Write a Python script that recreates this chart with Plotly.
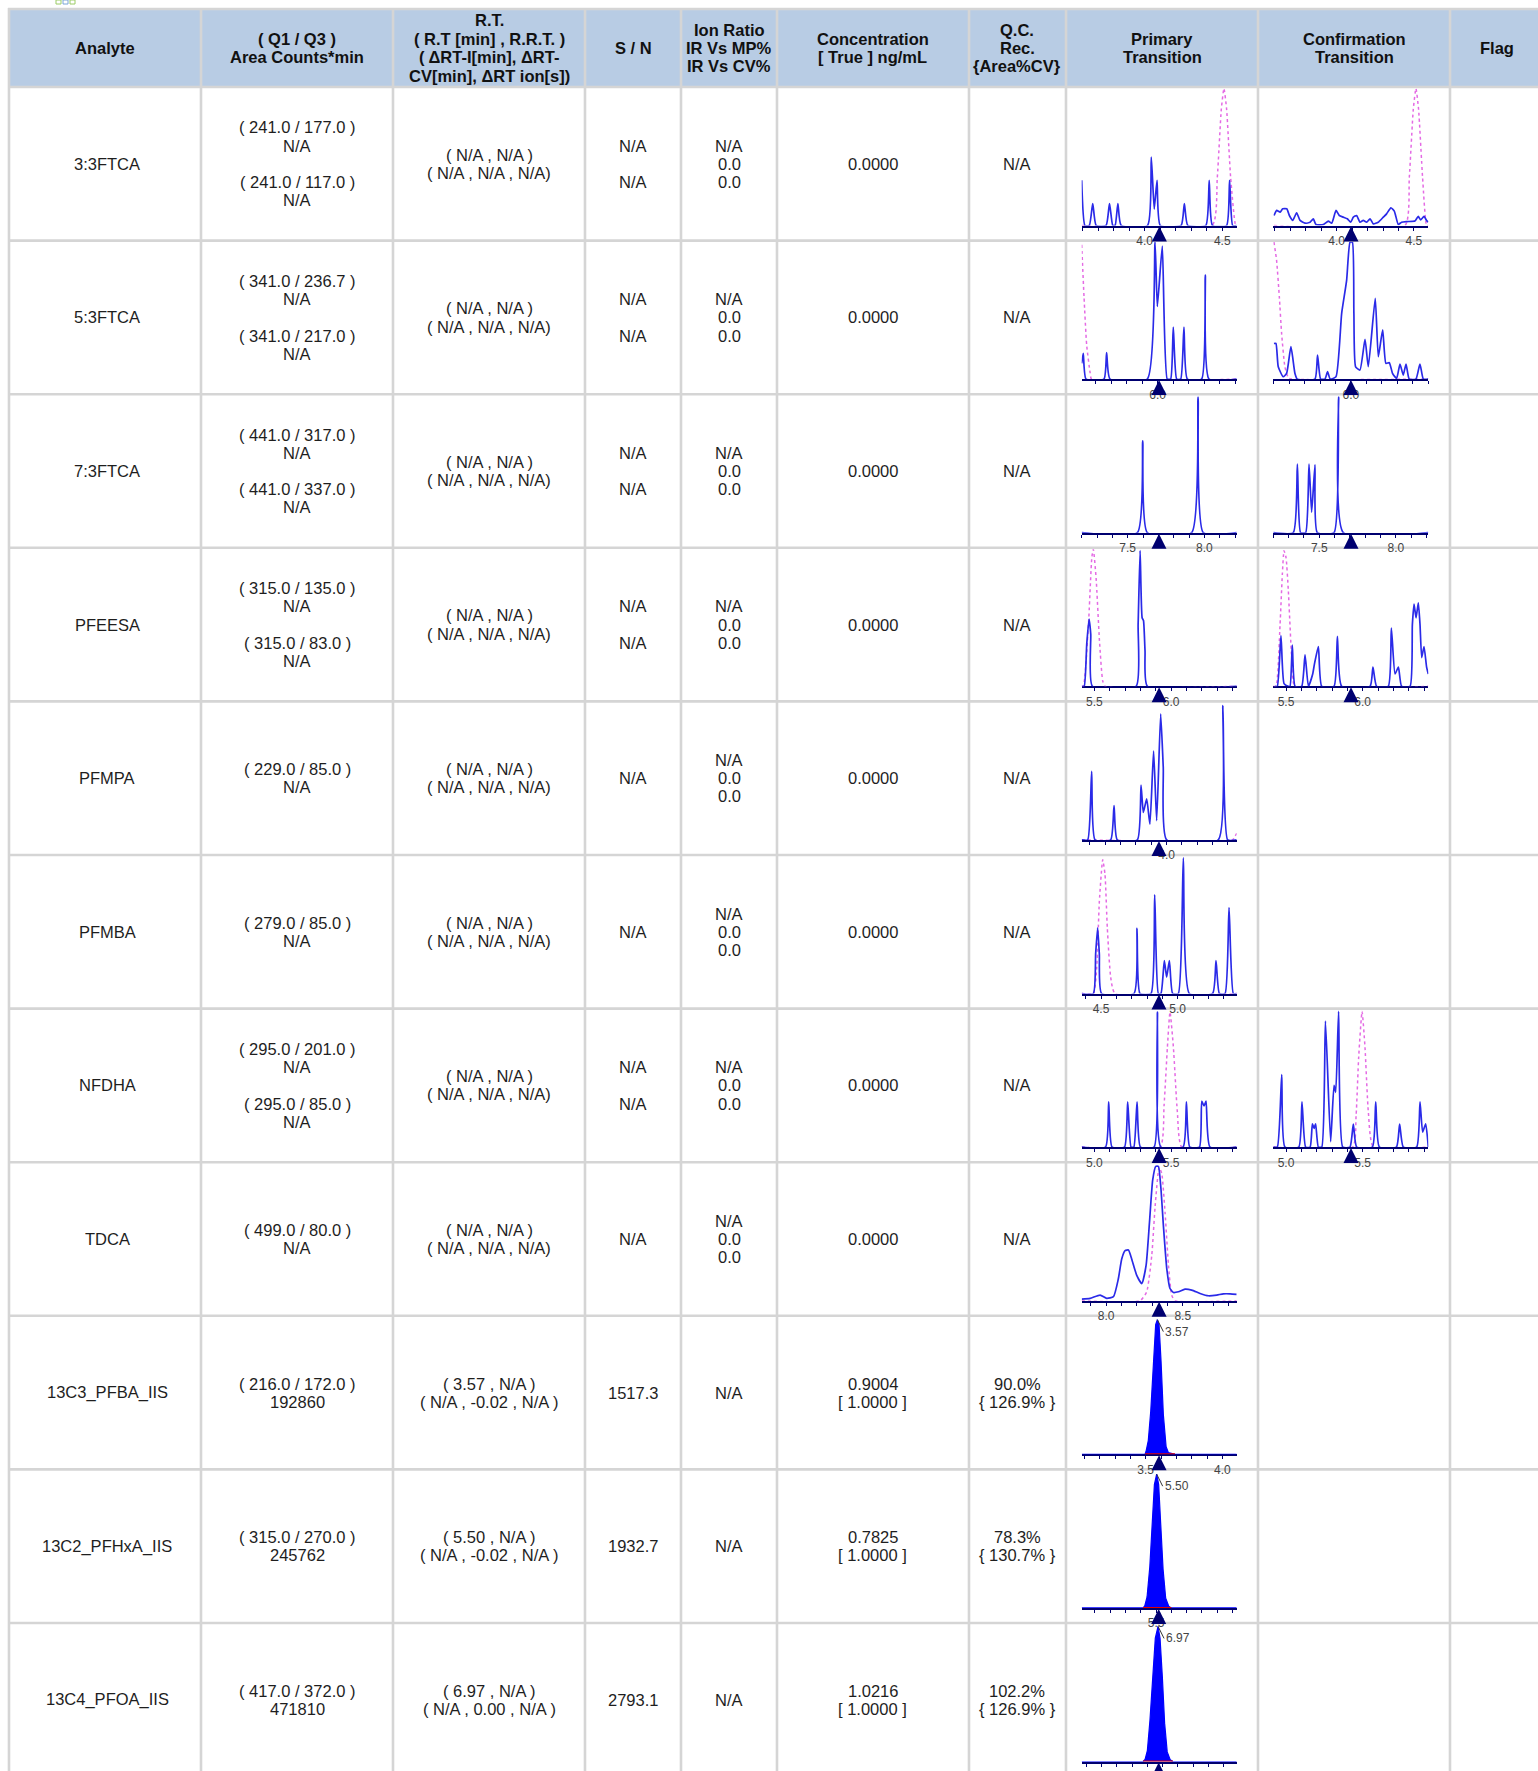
import plotly.graph_objects as go

W, H = 1538, 1771
FONT = "Liberation Sans, Arial, sans-serif"
TXT = "#1e1e1e"

# ---------------- table content ----------------
HEADERS = [
    "Analyte",
    "( Q1 / Q3 )\nArea Counts*min",
    "R.T.\n( R.T [min] , R.R.T. )\n( ΔRT-I[min], ΔRT-\nCV[min], ΔRT ion[s])",
    "S / N",
    "Ion Ratio\nIR Vs MP%\nIR Vs CV%",
    "Concentration\n[ True ] ng/mL",
    "Q.C.\nRec.\n{Area%CV}",
    "Primary\nTransition",
    "Confirmation\nTransition",
    "Flag",
]

ANALYTES = ["3:3FTCA", "5:3FTCA", "7:3FTCA", "PFEESA", "PFMPA", "PFMBA",
            "NFDHA", "TDCA", "13C3_PFBA_IIS", "13C2_PFHxA_IIS", "13C4_PFOA_IIS"]

Q1Q3 = [
    "( 241.0 / 177.0 )\nN/A\n\n( 241.0 / 117.0 )\nN/A",
    "( 341.0 / 236.7 )\nN/A\n\n( 341.0 / 217.0 )\nN/A",
    "( 441.0 / 317.0 )\nN/A\n\n( 441.0 / 337.0 )\nN/A",
    "( 315.0 / 135.0 )\nN/A\n\n( 315.0 / 83.0 )\nN/A",
    "( 229.0 / 85.0 )\nN/A",
    "( 279.0 / 85.0 )\nN/A",
    "( 295.0 / 201.0 )\nN/A\n\n( 295.0 / 85.0 )\nN/A",
    "( 499.0 / 80.0 )\nN/A",
    "( 216.0 / 172.0 )\n192860",
    "( 315.0 / 270.0 )\n245762",
    "( 417.0 / 372.0 )\n471810",
]

RT = ["( N/A , N/A )\n( N/A , N/A , N/A)"] * 8 + [
    "( 3.57 , N/A )\n( N/A , -0.02 , N/A )",
    "( 5.50 , N/A )\n( N/A , -0.02 , N/A )",
    "( 6.97 , N/A )\n( N/A , 0.00 , N/A )",
]

SN = ["N/A\n\nN/A"] * 4 + ["N/A", "N/A", "N/A\n\nN/A", "N/A", "1517.3", "1932.7", "2793.1"]

ION = ["N/A\n0.0\n0.0"] * 8 + ["N/A"] * 3

CONC = ["0.0000"] * 8 + ["0.9004\n[ 1.0000 ]", "0.7825\n[ 1.0000 ]", "1.0216\n[ 1.0000 ]"]

QC = ["N/A"] * 8 + ["90.0%\n{ 126.9% }", "78.3%\n{ 130.7% }", "102.2%\n{ 126.9% }"]

# ---------------- chromatogram data: (time [min], relative intensity) ----------------
P1_BLUE = [(3.595, 33), (3.616, 0), (3.644, 0), (3.666, 16), (3.688, 0), (3.752, 0), (3.774, 16),
           (3.795, 0), (3.810, 0), (3.828, 16), (3.849, 0), (4.019, 0), (4.043, 50), (4.062, 12),
           (4.080, 33), (4.101, 0), (4.235, 0), (4.256, 16), (4.278, 0), (4.394, 0), (4.416, 33),
           (4.437, 0), (4.528, 0), (4.547, 33), (4.567, 0), (4.593, 0)]
P1_PINK = [(3.595, 0), (4.435, 0), (4.468, 35), (4.494, 85), (4.511, 100), (4.528, 85),
           (4.554, 35), (4.586, 0), (4.593, 0)]
C1_BLUE = [(3.595, 7.3), (3.612, 11), (3.634, 9.8), (3.651, 12.2), (3.677, 12.2), (3.694, 7.3),
           (3.716, 3.7), (3.741, 9.3), (3.763, 3.7), (3.795, 1.7), (3.828, 2.4), (3.849, 4.9),
           (3.866, 0.7), (3.914, 0.7), (3.946, 3.2), (3.968, 1.7), (3.996, 11), (4.017, 7.3),
           (4.043, 6.1), (4.069, 4.9), (4.091, 2.4), (4.108, 6.1), (4.129, 7.3), (4.151, 2.4),
           (4.172, 3.7), (4.194, 2.4), (4.216, 4.9), (4.237, 1.2), (4.269, 2.4), (4.302, 6.1),
           (4.323, 8.5), (4.351, 12.9), (4.373, 10.5), (4.399, 0.7), (4.420, 2.4), (4.453, 2.9),
           (4.506, 3.2), (4.528, 6.6), (4.543, 4.1), (4.565, 6.6), (4.582, 3.7), (4.593, 2.4)]
C1_PINK = [(3.595, 0), (4.442, 0), (4.470, 35), (4.496, 85), (4.513, 100), (4.530, 85),
           (4.556, 35), (4.582, 0), (4.593, 0)]

P2_BLUE = [(5.509, 11.5), (5.519, 18.8), (5.537, 0), (5.653, 0), (5.670, 19.3), (5.692, 0),
           (5.933, 0), (5.983, 100), (5.998, 53), (6.030, 97), (6.062, 0), (6.084, 0),
           (6.101, 38), (6.123, 0), (6.149, 0), (6.170, 38), (6.192, 0), (6.284, 0),
           (6.308, 76), (6.332, 0), (6.511, 0)]
P2_PINK = [(5.509, 98), (5.524, 60), (5.541, 25), (5.563, 5), (5.573, 0), (6.511, 0)]
C2_BLUE = [(5.502, 26), (5.515, 26), (5.530, 9), (5.562, 1.7), (5.584, 4.1), (5.612, 23.7),
           (5.638, 4.1), (5.653, 0), (5.767, 0), (5.784, 17.6), (5.804, 0), (5.832, 0),
           (5.849, 5.4), (5.866, 0), (5.903, 1.7), (5.940, 48), (5.972, 72), (5.994, 100),
           (6.009, 100), (6.019, 48), (6.030, 9), (6.058, 6.6), (6.091, 29), (6.112, 9),
           (6.157, 59), (6.177, 16.3), (6.205, 35.9), (6.226, 11.5), (6.248, 12), (6.269, 4.1),
           (6.295, 0.5), (6.317, 11), (6.338, 2.9), (6.356, 11), (6.377, 0), (6.420, 0),
           (6.446, 11), (6.468, 0), (6.500, 0)]
C2_PINK = [(5.502, 100), (5.519, 87), (5.537, 60), (5.552, 33), (5.573, 9), (5.595, 1),
           (5.616, 0), (6.500, 0)]

P3_BLUE = [(7.200, 0), (7.563, 0), (7.598, 67), (7.628, 0), (7.917, 0), (7.959, 99),
           (7.993, 0), (8.211, 0)]
C3_BLUE = [(7.200, 0), (7.330, 0), (7.357, 50), (7.378, 0), (7.411, 0), (7.433, 50),
           (7.450, 15), (7.472, 49.5), (7.487, 0), (7.596, 0), (7.626, 99), (7.657, 0),
           (8.211, 0)]

P4_BLUE = [(5.417, 0), (5.433, 0), (5.450, 31), (5.465, 49), (5.476, 38), (5.487, 0),
           (5.772, 0), (5.785, 45), (5.798, 99), (5.811, 50), (5.820, 48), (5.830, 26),
           (5.846, 0), (6.428, 0)]
P4_PINK = [(5.417, 0), (5.428, 0), (5.461, 45), (5.483, 94), (5.493, 100), (5.511, 79),
           (5.533, 33), (5.554, 4), (5.570, 0), (6.428, 0)]
C4_BLUE = [(5.428, 0), (5.443, 0), (5.467, 37), (5.487, 2), (5.515, 0), (5.526, 0),
           (5.541, 30), (5.559, 0), (5.602, 0), (5.624, 23), (5.646, 0), (5.674, 9),
           (5.685, 16), (5.711, 29), (5.733, 0), (5.813, 0), (5.835, 36.5), (5.863, 0),
           (6.048, 0), (6.067, 14), (6.091, 0), (6.167, 0), (6.187, 42.5), (6.211, 9),
           (6.233, 14), (6.254, 0), (6.309, 0), (6.324, 45), (6.335, 60), (6.348, 50),
           (6.363, 61), (6.374, 45), (6.385, 21), (6.400, 29), (6.417, 14), (6.428, 9)]
C4_PINK = [(5.417, 0), (5.435, 0), (5.461, 45), (5.476, 82), (5.487, 99), (5.500, 94),
           (5.515, 70), (5.537, 21), (5.559, 0), (6.428, 0)]

P5_BLUE = [(3.446, 0), (3.485, 0), (3.511, 50), (3.533, 0), (3.635, 0), (3.657, 25),
           (3.678, 0), (3.809, 0), (3.833, 40), (3.848, 20), (3.870, 30), (3.891, 11.5),
           (3.915, 65), (3.935, 14), (3.961, 92), (3.978, 53), (4.000, 0), (4.337, 0),
           (4.367, 98), (4.398, 0), (4.457, 0)]
P5_PINK = [(3.446, 0), (4.430, 0), (4.445, 2.4), (4.457, 4.8)]

P6_BLUE = [(4.374, 0), (4.450, 0), (4.465, 29), (4.478, 48), (4.489, 29), (4.504, 0),
           (4.715, 0), (4.735, 47.5), (4.754, 0), (4.826, 0), (4.850, 72), (4.874, 0),
           (4.891, 0), (4.913, 24), (4.928, 12), (4.946, 24), (4.967, 0), (5.004, 0),
           (5.037, 99), (5.076, 0), (5.228, 0), (5.250, 24), (5.272, 0), (5.309, 0),
           (5.335, 62.7), (5.363, 0), (5.385, 0)]
P6_PINK = [(4.374, 0), (4.450, 0), (4.472, 19), (4.489, 67), (4.511, 97.6), (4.526, 87),
           (4.541, 48), (4.563, 12), (4.591, 0), (5.385, 0)]

P7_BLUE = [(4.917, 0), (5.072, 0), (5.093, 33), (5.115, 0), (5.196, 0), (5.217, 33),
           (5.239, 0), (5.257, 0), (5.278, 33), (5.300, 0), (5.389, 0), (5.411, 98.6),
           (5.433, 0), (5.578, 0), (5.600, 33), (5.622, 0), (5.685, 0), (5.700, 33.5),
           (5.715, 30), (5.728, 33.5), (5.754, 0), (5.928, 0)]
P7_PINK = [(4.917, 0), (5.428, 0), (5.454, 30), (5.476, 73), (5.493, 98.6), (5.515, 73),
           (5.541, 25.6), (5.570, 0), (5.928, 0)]
C7_BLUE = [(4.917, 0), (4.943, 0), (4.972, 53), (4.993, 0), (5.083, 0), (5.104, 33),
           (5.128, 0), (5.157, 0), (5.172, 17), (5.183, 13.6), (5.193, 17), (5.211, 0),
           (5.233, 0), (5.257, 92), (5.291, 4), (5.313, 45), (5.324, 40), (5.343, 99),
           (5.370, 0), (5.417, 0), (5.439, 16.7), (5.461, 0), (5.563, 0), (5.585, 33),
           (5.609, 0), (5.720, 0), (5.741, 16.7), (5.765, 0), (5.852, 0), (5.874, 33),
           (5.891, 11), (5.911, 17), (5.928, 0)]
C7_PINK = [(4.917, 0), (5.435, 0), (5.457, 23), (5.474, 66), (5.496, 99), (5.515, 73),
           (5.537, 25.6), (5.570, 0), (5.928, 0)]

P8_BLUE = [(7.841, 1.2), (7.896, 1.7), (7.961, 4.1), (8.004, 1.7), (8.048, 2.9), (8.080, 16),
           (8.102, 30.5), (8.124, 36.5), (8.146, 37), (8.167, 30.5), (8.200, 18.5),
           (8.233, 12.5), (8.261, 25.7), (8.283, 57), (8.304, 88), (8.324, 98), (8.341, 98),
           (8.357, 83), (8.374, 54.6), (8.396, 23.3), (8.417, 8.9), (8.439, 6), (8.472, 6.5),
           (8.515, 8.4), (8.559, 7.7), (8.613, 5.3), (8.667, 3.6), (8.722, 4.1), (8.765, 5),
           (8.809, 5), (8.852, 4.6)]
P8_PINK = [(7.841, 0), (8.222, 0), (8.265, 6.5), (8.298, 33), (8.320, 69), (8.346, 97.4),
           (8.363, 93), (8.385, 64), (8.407, 25.7), (8.428, 4), (8.450, 0), (8.852, 0)]

P9_PEAK = [(3.083, 0), (3.496, 0), (3.502, 2), (3.517, 10), (3.533, 31.6), (3.550, 68),
           (3.565, 94.7), (3.576, 98.3), (3.587, 94.7), (3.600, 68), (3.615, 29),
           (3.633, 5.5), (3.648, 1.2), (3.691, 0), (4.093, 0)]
P10_PEAK = [(5.013, 0), (5.415, 0), (5.426, 1.5), (5.441, 8), (5.459, 30), (5.474, 62),
            (5.489, 90), (5.504, 97.6), (5.517, 90), (5.530, 62), (5.546, 28), (5.563, 7),
            (5.583, 1.2), (5.600, 0), (6.028, 0)]
P11_PEAK = [(6.470, 0), (6.872, 0), (6.885, 1.5), (6.900, 8), (6.917, 30), (6.935, 62),
            (6.952, 90), (6.970, 98.6), (6.983, 90), (6.998, 62), (7.013, 28), (7.030, 7),
            (7.050, 1.2), (7.067, 0), (7.485, 0)]

# integration baselines of the internal standards (start, end)
IIS_BASE = [(3.496, 3.691), (5.415, 5.600), (6.872, 7.067)]
PEAK_LABELS = ["3.57", "5.50", "6.97"]
PEAK_APEX = [(3.576, 98.3), (5.504, 97.6), (6.970, 98.6)]

# time windows, labelled ticks and expected-RT markers per thumbnail
THUMBS = [
    # row, column, blue, pink, window, ticks, rt
    (0, "P", P1_BLUE, P1_PINK, (3.595, 4.593), [4.0, 4.5], 4.095),
    (0, "C", C1_BLUE, C1_PINK, (3.590, 4.593), [4.0, 4.5], 4.093),
    (1, "P", P2_BLUE, P2_PINK, (5.509, 6.511), [6.0], 6.009),
    (1, "C", C2_BLUE, C2_PINK, (5.498, 6.500), [6.0], 6.000),
    (2, "P", P3_BLUE, None, (7.200, 8.211), [7.5, 8.0], 7.704),
    (2, "C", C3_BLUE, None, (7.200, 8.211), [7.5, 8.0], 7.707),
    (3, "P", P4_BLUE, P4_PINK, (5.417, 6.428), [5.5, 6.0], 5.922),
    (3, "C", C4_BLUE, C4_PINK, (5.417, 6.428), [5.5, 6.0], 5.924),
    (4, "P", P5_BLUE, P5_PINK, (3.446, 4.457), [4.0], 3.950),
    (5, "P", P6_BLUE, P6_PINK, (4.374, 5.385), [4.5, 5.0], 4.878),
    (6, "P", P7_BLUE, P7_PINK, (4.917, 5.928), [5.0, 5.5], 5.422),
    (6, "C", C7_BLUE, C7_PINK, (4.917, 5.928), [5.0, 5.5], 5.424),
    (7, "P", P8_BLUE, P8_PINK, (7.841, 8.852), [8.0, 8.5], 8.346),
    (8, "P", P9_PEAK, None, (3.083, 4.093), [3.5, 4.0], 3.587),
    (9, "P", P10_PEAK, None, (5.013, 6.028), [5.5], 5.517),
    (10, "P", P11_PEAK, None, (6.470, 7.485), [7.0], 6.974),
]

# ---------------- geometry (pixels) ----------------
COL_EDGES = [9, 201, 393, 585, 681, 777, 969, 1066, 1258, 1450]
HEAD_CENTERS = [105, 297, 489, 633, 729, 873, 1017, 1162, 1354, 1497]
BODY_CENTERS = [107, 297, 489, 633, 729, 873, 1017]
TOP, HEAD_BOT = 9, 87
ROW_H = 153.6
LINE = 18.2
GRID = "#d5d5d5"
NAVY = "#000070"
BLUE = "#2a2ae8"
PINK = "#e46ae4"
BODY_SIZE = 16.5
HEAD_SIZE = 16.5


def px(x):
    return x / W


def py(y):
    return 1 - y / H


fig = go.Figure()
shapes, annos = [], []

# header background
shapes.append(dict(type="rect", xref="paper", yref="paper", x0=px(TOP), x1=1,
                   y0=py(HEAD_BOT), y1=py(TOP), fillcolor="#b8cce4", line=dict(width=0),
                   layer="below"))
# top-left tiny logo squares
for i, c in enumerate(["#9ccc66", "#7aa6d6", "#9ccc66"]):
    shapes.append(dict(type="rect", xref="paper", yref="paper", x0=px(56 + 7 * i),
                       x1=px(61 + 7 * i), y0=py(4), y1=py(0), fillcolor="white",
                       line=dict(color=c, width=1), layer="below"))
# grid lines
for x in COL_EDGES:
    shapes.append(dict(type="line", xref="paper", yref="paper", x0=px(x), x1=px(x),
                       y0=py(TOP - 1), y1=0, line=dict(color=GRID, width=2.6), layer="below"))
hlines = [TOP, HEAD_BOT] + [HEAD_BOT + ROW_H * r for r in range(1, 11)]
for y in hlines:
    shapes.append(dict(type="line", xref="paper", yref="paper", x0=px(TOP - 1), x1=1,
                       y0=py(y), y1=py(y), line=dict(color=GRID, width=2.6), layer="below"))


def add_lines(cx, cy, text, bold=False, size=BODY_SIZE, spacing=LINE):
    lines = text.split("\n")
    n = len(lines)
    for i, ln in enumerate(lines):
        if not ln:
            continue
        yy = cy + (i - (n - 1) / 2) * spacing
        annos.append(dict(xref="paper", yref="paper", x=px(cx), y=py(yy), text=ln,
                          showarrow=False, xanchor="center", yanchor="middle",
                          font=dict(family=FONT, size=size, color="#111" if bold else TXT,
                                    weight="bold" if bold else "normal")))


# header text
for cx, h in zip(HEAD_CENTERS, HEADERS):
    add_lines(cx, (TOP + HEAD_BOT) / 2, h, bold=True, size=HEAD_SIZE, spacing=18.4)

# body text
for r in range(len(ANALYTES)):
    cy = HEAD_BOT + ROW_H * r + ROW_H / 2
    cells = [ANALYTES[r], Q1Q3[r], RT[r], SN[r], ION[r], CONC[r], QC[r]]
    for cx, t in zip(BODY_CENTERS, cells):
        add_lines(cx, cy, t)

# thumbnails
PLOT_X = {"P": (1081.7, 1236.7), "C": (1273.3, 1428.3)}
iis_i = 0
for k, (row, col, blue, pink, win, ticks, rt) in enumerate(THUMBS, start=1):
    xa = "x" if k == 1 else f"x{k}"
    ya = "y" if k == 1 else f"y{k}"
    top = HEAD_BOT + ROW_H * row
    base = top + 138.5
    x0, x1 = PLOT_X[col]
    fig.layout["xaxis" if k == 1 else f"xaxis{k}"] = dict(
        domain=[px(x0), px(x1)], anchor=ya, range=list(win), showgrid=False, zeroline=False,
        showline=True, linecolor=NAVY, linewidth=2, layer="below traces", automargin=False,
        tickmode="array", tickvals=ticks, ticktext=[f"{t:.1f}" for t in ticks],
        ticks="outside", ticklen=3, tickwidth=1, tickcolor=NAVY,
        tickfont=dict(family="Liberation Sans, Arial, sans-serif", size=12, color="#444"),
        minor=dict(tickmode="linear", tick0=0, dtick=0.1, ticks="outside", ticklen=3,
                   tickwidth=1, tickcolor=NAVY, showgrid=False),
        fixedrange=True)
    fig.layout["yaxis" if k == 1 else f"yaxis{k}"] = dict(
        domain=[py(base), py(top + 1.5)], anchor=xa, range=[0, 100], visible=False,
        automargin=False, fixedrange=True)

    is_iis = row >= 8
    if pink is not None:
        fig.add_trace(go.Scatter(x=[p[0] for p in pink], y=[p[1] for p in pink], mode="lines",
                                 line=dict(color=PINK, width=1.5, dash="dot", shape="spline",
                                           smoothing=0.5),
                                 xaxis=xa, yaxis=ya, hoverinfo="skip"))
    if is_iis:
        fig.add_trace(go.Scatter(x=[p[0] for p in blue], y=[p[1] for p in blue], mode="lines",
                                 fill="tozeroy", fillcolor="#0000ff",
                                 line=dict(color="#0000ff", width=1.2),
                                 xaxis=xa, yaxis=ya, hoverinfo="skip"))
        b0, b1 = IIS_BASE[iis_i]
        fig.add_trace(go.Scatter(x=[b0, b1], y=[0, 0], mode="lines",
                                 line=dict(color="#e00000", width=2),
                                 xaxis=xa, yaxis=ya, hoverinfo="skip", cliponaxis=False))
        ax_, ay_ = PEAK_APEX[iis_i]
        annos.append(dict(xref=xa, yref=ya, x=ax_, y=ay_, text=PEAK_LABELS[iis_i],
                          showarrow=True, arrowhead=0, arrowwidth=1, arrowcolor="#333",
                          ax=6, ay=12, xanchor="left", yanchor="middle",
                          font=dict(family="Liberation Sans, Arial, sans-serif", size=12,
                                    color="#444")))
        iis_i += 1
    else:
        fig.add_trace(go.Scatter(x=[p[0] for p in blue], y=[p[1] for p in blue], mode="lines",
                                 line=dict(color=BLUE, width=1.7, shape="spline",
                                           smoothing=0.5),
                                 xaxis=xa, yaxis=ya, hoverinfo="skip"))
    # expected retention time marker
    annos.append(dict(xref=xa, yref=ya, x=rt, y=0, text="", showarrow=True, arrowhead=2,
                      arrowsize=1, arrowwidth=3, arrowcolor=NAVY, ax=0, ay=11, standoff=1))

fig.update_layout(width=W, height=H, margin=dict(l=0, r=0, t=0, b=0, autoexpand=False),
                  paper_bgcolor="white", plot_bgcolor="rgba(0,0,0,0)", showlegend=False,
                  shapes=shapes, annotations=annos)

fig.write_html("out.html", config={"displayModeBar": False},
               post_script="document.body.style.margin='0px';"
                           "document.body.style.overflow='hidden';")
